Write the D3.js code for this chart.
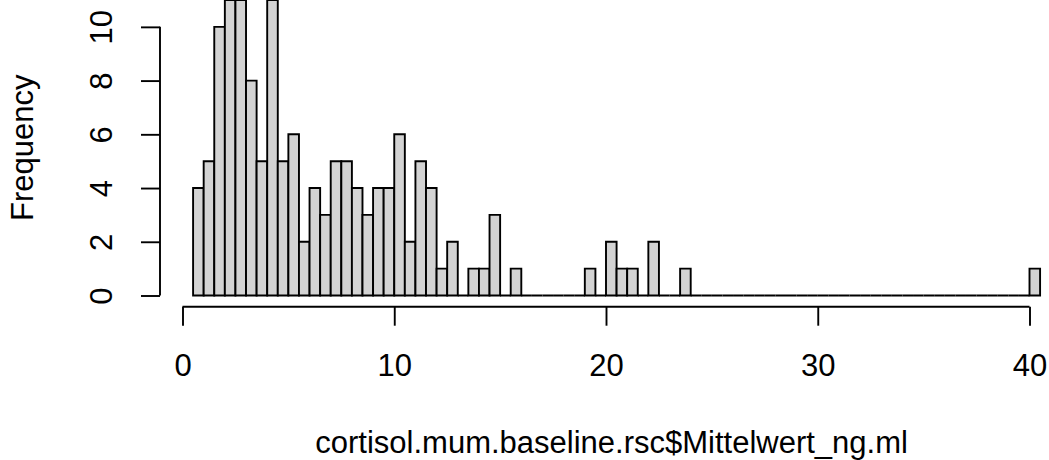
<!DOCTYPE html>
<html>
<head>
<meta charset="utf-8">
<script src="https://cdn.jsdelivr.net/npm/d3@7"></script>
<style>
  html, body { margin: 0; padding: 0; background: #fff; }
  svg { display: block; }
  text { font-family: "Liberation Sans", Arial, Helvetica, sans-serif; fill: #000; }
</style>
</head>
<body>
<svg id="chart" width="1049" height="460"></svg>
<script>
// Histogram of baseline cortisol means, bins of width 0.5 from 0.5 to 40.5
const binStart = 0.5;
const binWidth = 0.5;
const counts = [
  4, 5, 10, 11, 11, 8, 5, 11, 5, 6,      // 0.5 – 5.5
  2, 4, 3, 5, 5, 4, 3, 4, 4, 6,          // 5.5 – 10.5
  2, 5, 4, 1, 2, 0, 1, 1, 3, 0,          // 10.5 – 15.5
  1, 0, 0, 0, 0, 0, 0, 1, 0, 2,          // 15.5 – 20.5
  1, 1, 0, 2, 0, 0, 1, 0, 0, 0,          // 20.5 – 25.5
  0, 0, 0, 0, 0, 0, 0, 0, 0, 0,          // 25.5 – 30.5
  0, 0, 0, 0, 0, 0, 0, 0, 0, 0,          // 30.5 – 35.5
  0, 0, 0, 0, 0, 0, 0, 0, 0, 1           // 35.5 – 40.5
];
const xTicks = [0, 10, 20, 30, 40];
const yTicks = [0, 2, 4, 6, 8, 10];
const xTitle = "cortisol.mum.baseline.rsc$Mittelwert_ng.ml";
const yTitle = "Frequency";

const bins = counts.map((c, i) => ({
  x0: binStart + i * binWidth,
  x1: binStart + (i + 1) * binWidth,
  count: c
}));

const svg = d3.select("#chart");
const FS = 31;

// plotting region (4% padding around the data range)
const x = d3.scaleLinear().domain([0, 40]).range([182.5, 1029.5]);
const y = d3.scaleLinear().domain([0, 11]).range([295.5, 0.0]);

const plotLeft = x(-1.1), plotRight = x(42.1);

// bars: drawn as closed outlines so empty bins still show as a baseline segment
svg.append("g")
  .selectAll("path")
  .data(bins)
  .join("path")
  .attr("d", d => {
    const xa = x(d.x0), xb = x(d.x1), yb = y(0), yt = y(d.count);
    return `M${xa},${yb}V${yt}H${xb}V${yb}Z`;
  })
  .attr("fill", "#d3d3d3")
  .attr("stroke", "#000")
  .attr("stroke-width", 1.9)
  .attr("stroke-linejoin", "miter");

// x axis
const xAxisY = 306.7;
const gx = svg.append("g")
  .attr("transform", `translate(0,${xAxisY})`)
  .call(d3.axisBottom(x).tickValues(xTicks).tickSize(19).tickSizeOuter(0).tickFormat(d3.format("d")));
gx.select(".domain").attr("stroke", "#000").attr("stroke-width", 1.9)
  .attr("d", `M${x(0)},0H${x(40)}`);
gx.selectAll(".tick line").attr("stroke", "#000").attr("stroke-width", 1.9);
gx.selectAll(".tick text")
  .attr("y", 376 - xAxisY).attr("dy", null)
  .attr("font-size", FS)
  .attr("font-family", null)
  .attr("fill", "#000");

// y axis
const yAxisX = 160;
const gy = svg.append("g")
  .attr("transform", `translate(${yAxisX},0)`)
  .call(d3.axisLeft(y).tickValues(yTicks).tickSize(19).tickSizeOuter(0).tickFormat(d3.format("d")));
gy.select(".domain").attr("stroke", "#000").attr("stroke-width", 1.9)
  .attr("d", `M0,${y(0)}V${y(10)}`);
gy.selectAll(".tick line").attr("stroke", "#000").attr("stroke-width", 1.9);
gy.selectAll(".tick text")
  .attr("x", null).attr("dy", null).attr("y", null)
  .attr("text-anchor", "middle")
  .attr("transform", `translate(${112 - yAxisX},0) rotate(-90)`)
  .attr("font-size", FS)
  .attr("font-family", null)
  .attr("fill", "#000");

// axis titles
svg.append("text")
  .attr("x", (plotLeft + plotRight) / 2 - 5)
  .attr("y", 453)
  .attr("text-anchor", "middle")
  .attr("font-size", FS)
  .text(xTitle);

svg.append("text")
  .attr("transform", `translate(33,${(y(-0.44) + y(11.44)) / 2}) rotate(-90)`)
  .attr("text-anchor", "middle")
  .attr("font-size", FS)
  .text(yTitle);
</script>
</body>
</html>
